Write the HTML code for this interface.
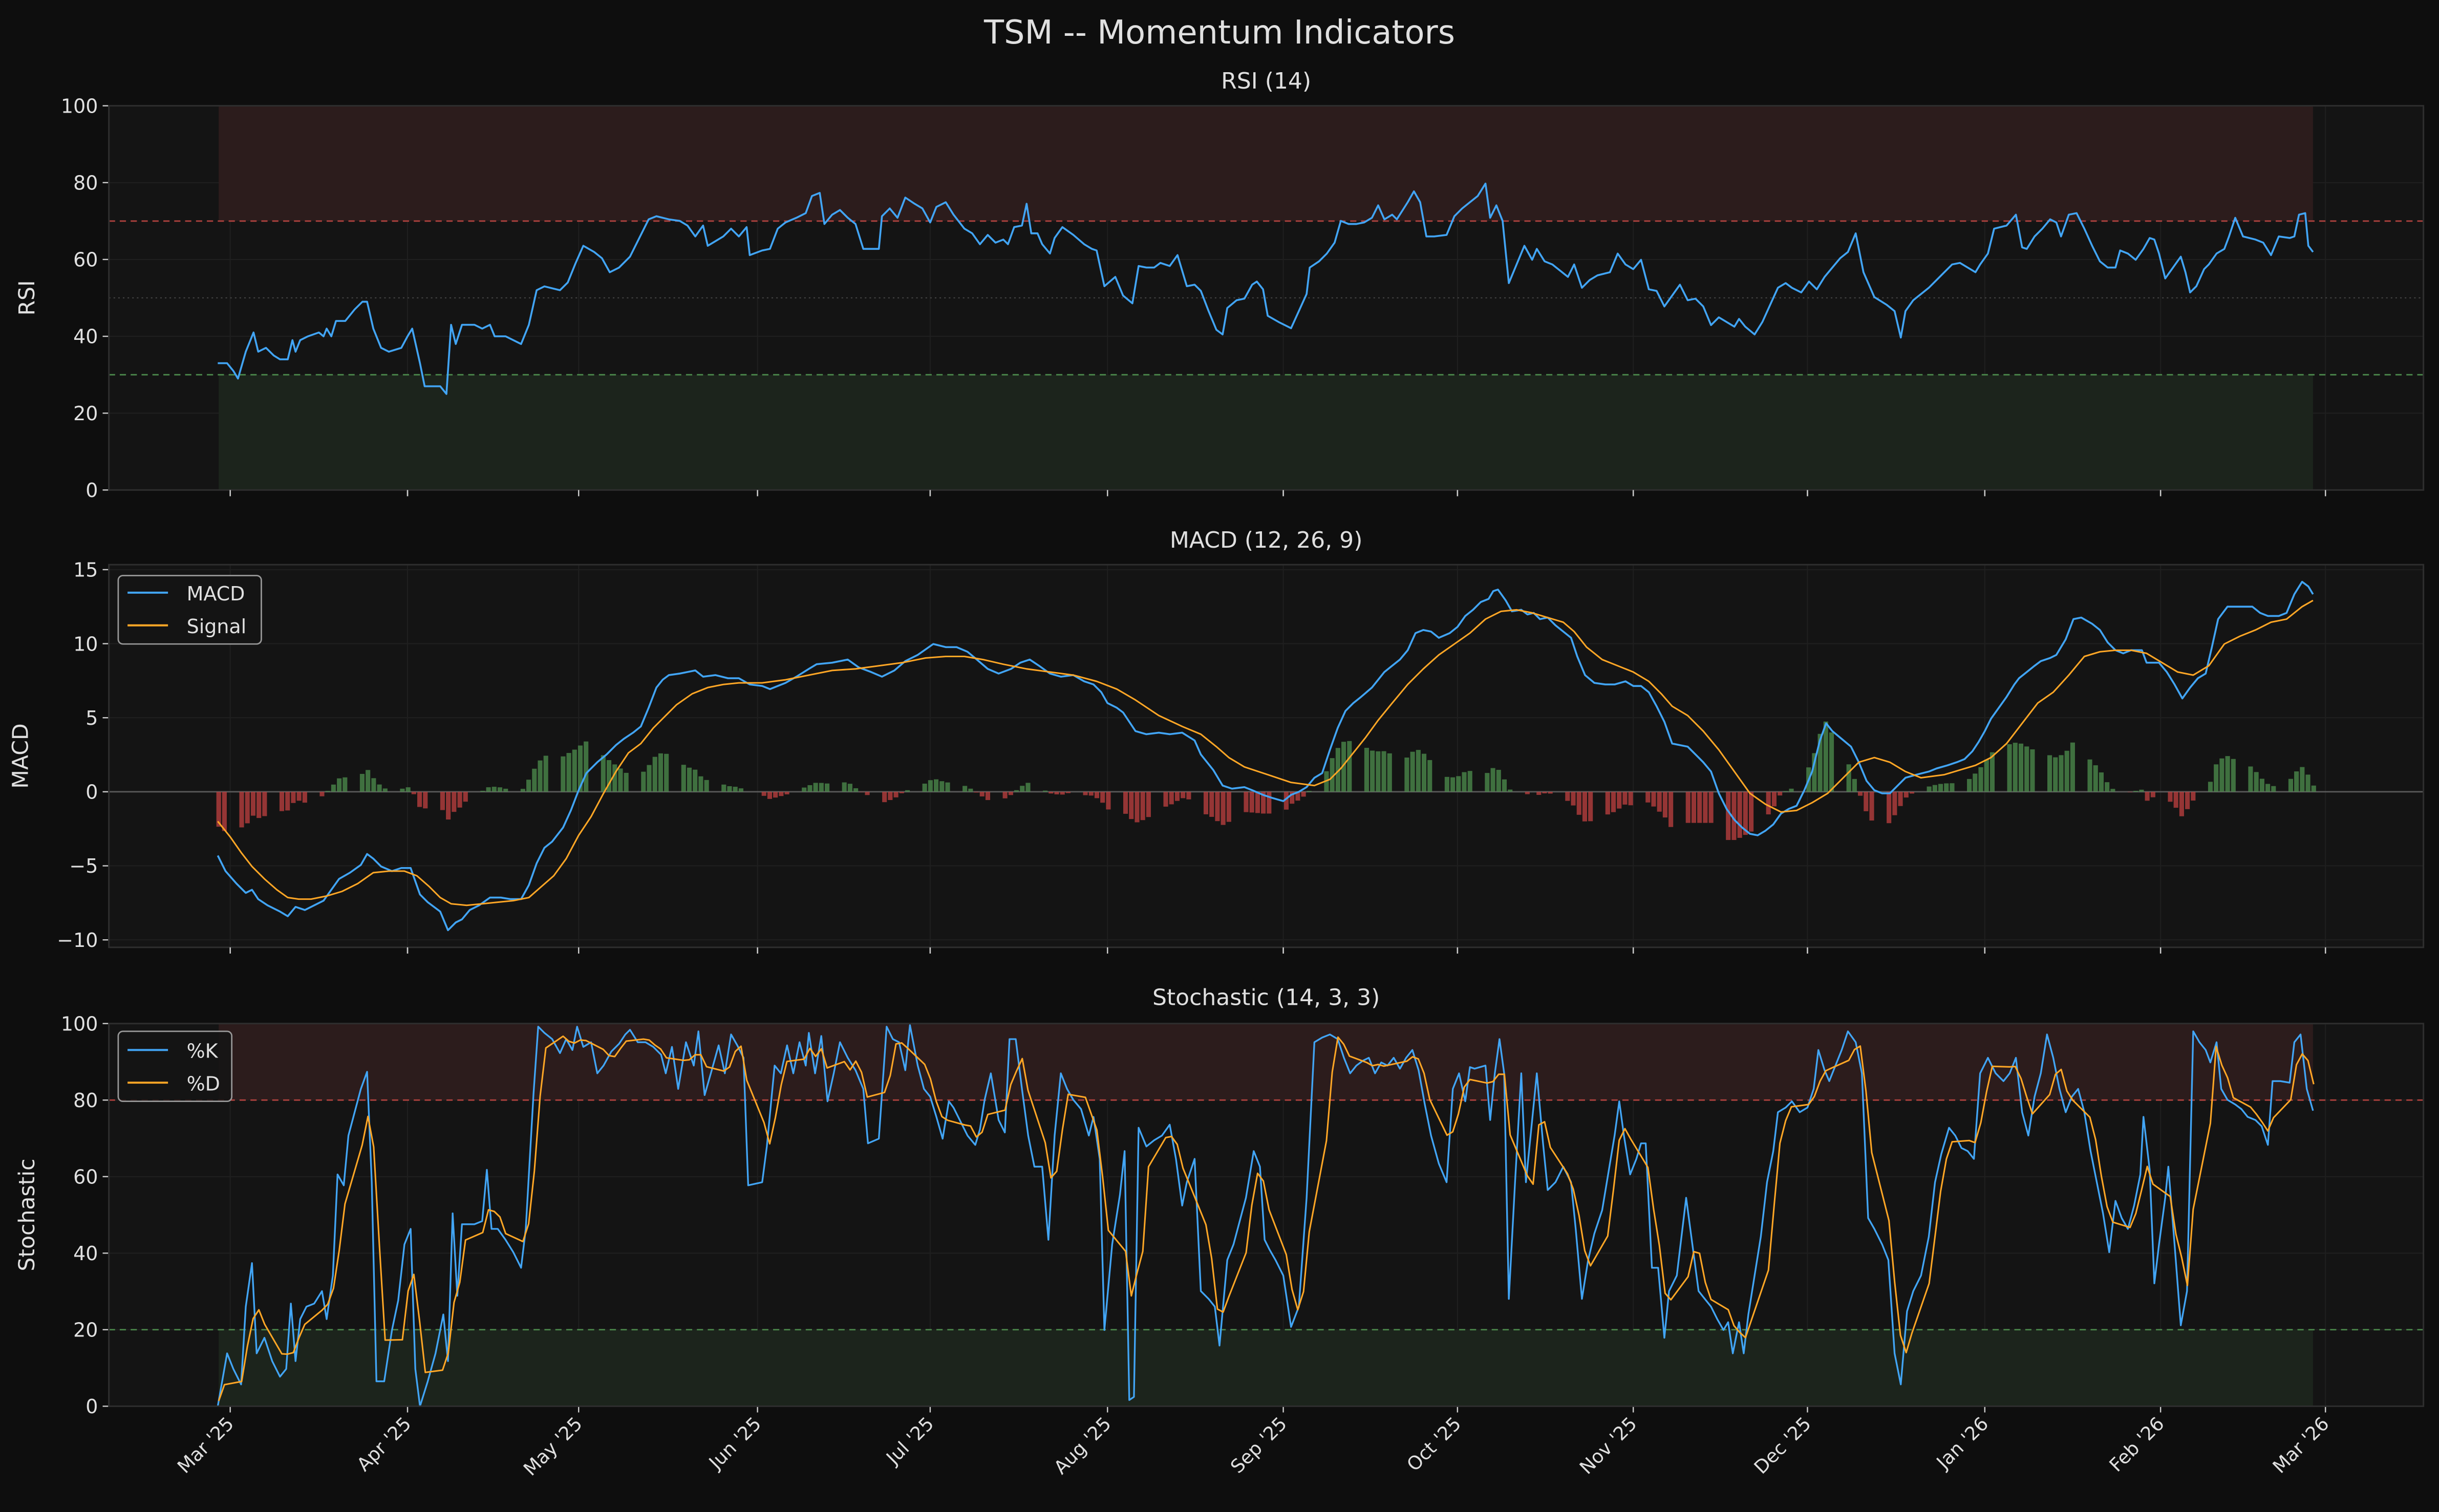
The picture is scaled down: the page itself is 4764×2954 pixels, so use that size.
<!DOCTYPE html>
<html><head><meta charset="utf-8"><style>
html,body{margin:0;padding:0;background:#0e0e0e;}
svg{display:block;}
text{font-family:"DejaVu Sans","Liberation Sans",sans-serif;fill:#e0e0e0;}
</style></head><body>
<svg id="s" width="4764" height="2954" viewBox="0 0 1568 972" preserveAspectRatio="none" xmlns="http://www.w3.org/2000/svg">
<rect width="1568" height="972" fill="#0e0e0e"/>
<text x="784" y="28" font-size="21" text-anchor="middle">TSM -- Momentum Indicators</text>
<text x="814" y="57" font-size="14.5" text-anchor="middle">RSI (14)</text>
<text x="814" y="352" font-size="14.5" text-anchor="middle">MACD (12, 26, 9)</text>
<text x="814" y="646" font-size="14.5" text-anchor="middle">Stochastic (14, 3, 3)</text>
<g id="g"></g>
</svg>
<script>
const NS="http://www.w3.org/2000/svg";const G=document.getElementById('g');
function el(t,a,txt){const e=document.createElementNS(NS,t);for(const k in a)e.setAttribute(k,a[k]);if(txt!==undefined)e.textContent=txt;G.appendChild(e);return e;}
const L=70,R=1558,X0=140.6,X1=1487;
const ticksX=[148,262,372,487,598,712,825,937,1050,1162,1276,1389,1495];
const tickL=["Mar '25","Apr '25","May '25","Jun '25","Jul '25","Aug '25","Sep '25","Oct '25","Nov '25","Dec '25","Jan '26","Feb '26","Mar '26"];
function panel(T,B,yt,fy,ylabel,ylx){
 el('rect',{x:L,y:T,width:R-L,height:B-T,fill:'#141414'});
 ticksX.forEach(x=>el('line',{x1:x,x2:x,y1:T,y2:B,stroke:'#1f1f1f','stroke-width':0.7}));
 yt.forEach(v=>{const y=fy(v);el('line',{x1:L,x2:R,y1:y,y2:y,stroke:'#1f1f1f','stroke-width':0.7});
  el('line',{x1:L-4,x2:L,y1:y,y2:y,stroke:'#ccc','stroke-width':0.8});
  el('text',{x:L-7,y:y+4.5,'font-size':12.5,'text-anchor':'end'},(v<0?'\u2212'+(-v):''+v));});
 ticksX.forEach(x=>el('line',{x1:x,x2:x,y1:B,y2:B+4,stroke:'#ccc','stroke-width':0.8}));
 const my=(T+B)/2;el('text',{x:ylx,y:my,'font-size':14,'text-anchor':'middle',transform:`rotate(-90 ${ylx} ${my})`},ylabel);
}
function border(T,B){el('rect',{x:L,y:T,width:R-L,height:B-T,fill:'none',stroke:'#2e2e2e','stroke-width':1});}
function parse(s){return s.trim().split(';').map(p=>p.split(',').map(Number));}
function interp(P,x){if(x<=P[0][0])return P[0][1];for(let i=1;i<P.length;i++){if(x<=P[i][0]){const a=P[i-1],b=P[i];return a[1]+(b[1]-a[1])*(x-a[0])/(b[0]-a[0]);}}return P[P.length-1][1];}
function poly(P,c,w){el('polyline',{points:P.map(p=>p.join(',')).join(' '),fill:'none',stroke:c,'stroke-width':w,'stroke-linejoin':'round'});}
const days=[];{const d0=new Date(Date.UTC(2025,1,27));for(let i=0;i<=365;i++){const d=new Date(d0.getTime()+i*864e5);const wd=d.getUTCDay();const x=X0+i*3.69;if(x>X1+0.5)break;if(wd!==0&&wd!==6)days.push(x);}}
// RSI
const rT=68,rB=315,fr=v=>rB-(rB-rT)*v/100;
panel(rT,rB,[0,20,40,60,80,100],fr,'RSI',22);
el('rect',{x:X0,y:rT,width:X1-X0,height:fr(70)-rT,fill:'#2c1c1c'});
el('rect',{x:X0,y:fr(30),width:X1-X0,height:rB-fr(30),fill:'#1c241c'});
el('line',{x1:L,x2:R,y1:fr(70),y2:fr(70),stroke:'#b0423e','stroke-width':0.9,'stroke-dasharray':'4,3'});
el('line',{x1:L,x2:R,y1:fr(30),y2:fr(30),stroke:'#4c8a4c','stroke-width':0.9,'stroke-dasharray':'4,3'});
el('line',{x1:L,x2:R,y1:fr(50),y2:fr(50),stroke:'#444','stroke-width':0.7,'stroke-dasharray':'1,2'});
const rsiEarly=parse("140,33;146,33;150,31;153,29;158,36;163,41;166,36;171,37;176,35;180,34;185,34;188,39;190,36;193,39;198,40;205,41;208,40;210,42;213,40;216,44;222,44;228,47;233,49;236,49;240,42;245,37;250,36;258,37;262,40;265,42;270,33;273,27;283,27;287,25;290,43;293,38;297,43;305,43;310,42;315,43;318,40;325,40;335,38;340,43;345,52;350,53;360,52;365,54;370,59").map(p=>[p[0],fr(p[1])]);
const rsiLate=parse("375,158;382,162;387,166;392,175;398,172;405,165;410,155;417,141;422,139;430,141;437,142;442,145;447,152;452,145;455,158;460,155;465,152;470,147;475,152;480,146;482,164;490,161;495,160;500,147;505,143;512,140;518,137;522,126;527,124;530,144;535,138;540,135;545,140;550,144;555,160;565,160;567,139;572,134;577,140;582,127;588,131;593,134;598,143;602,133;608,130;613,138;620,147;625,150;630,157;635,151;640,156;645,154;648,157;652,146;657,145;660,131;663,150;667,150;670,157;675,163;678,153;683,146;690,151;697,157;702,160;705,161;710,184;717,178;722,190;728,195;732,171;737,172;742,172;746,169;752,171;757,164;763,184;768,183;772,187;777,200;782,212;786,215;789,198;795,193;800,192;805,183;808,181;812,186;815,203;822,207;830,211;835,200;840,189;842,172;848,168;853,163;858,156;862,142;867,144;872,144;877,143;882,140;886,132;890,141;895,138;898,141;905,130;909,123;913,130;917,152;922,152;930,151;935,139;940,134;945,130;950,126;955,118;958,140;962,132;966,142;970,182;975,170;980,158;985,167;988,160;993,168;998,170;1003,174;1008,178;1012,170;1017,185;1022,180;1027,177;1035,175;1040,163;1045,170;1050,173;1055,167;1060,186;1065,187;1070,197;1075,190;1080,183;1085,193;1090,192;1095,197;1100,209;1105,204;1110,207;1115,210;1118,205;1122,210;1128,215;1133,207;1138,196;1143,185;1148,182;1152,185;1158,188;1163,181;1168,186;1173,178;1178,172;1183,166;1188,162;1193,150;1198,175;1205,191;1213,196;1218,200;1222,217;1225,200;1230,193;1235,189;1240,185;1245,180;1250,175;1255,170;1260,169;1265,172;1270,175;1273,170;1278,163;1282,147;1290,145;1296,138;1300,159;1303,160;1308,152;1313,147;1318,141;1322,143;1325,152;1330,138;1335,137;1340,147;1345,158;1350,168;1355,172;1360,172;1363,161;1368,163;1373,167;1378,160;1382,153;1385,154;1388,163;1392,179;1397,172;1402,165;1405,175;1408,188;1412,184;1417,173;1420,170;1425,163;1430,160;1433,152;1437,140;1442,152;1450,154;1455,156;1460,164;1465,152;1472,153;1475,152;1478,138;1482,137;1484,158;1487,162");
poly(rsiEarly.concat(rsiLate),'#42a5f5',1.2);border(rT,rB);
// MACD
const mT=363,mB=609,Z=509,fm=v=>Z-v*9.52;
panel(mT,mB,[-10,-5,0,5,10,15],fm,'MACD',18);
el('line',{x1:L,x2:R,y1:Z,y2:Z,stroke:'#5a5a5a','stroke-width':0.9});
const macd=parse("140,550;145,560;152,568;158,574;162,572;166,578;172,582;180,586;185,589;190,583;196,585;202,582;208,579;213,572;218,565;225,561;232,556;236,549;240,552;245,557;252,560;258,558;264,558;270,575;275,580;283,586;288,598;293,593;297,591;302,585;308,582;315,577;322,577;328,578;335,578;340,569;345,555;350,545;355,541;362,532;367,521;372,508;377,497;384,490;390,485;396,479;401,475;407,471;412,467;417,455;422,442;426,437;430,434;437,433;442,432;447,431;452,435;460,434;468,436;475,436;482,440;490,441;495,443;505,439;512,435;520,430;525,427;535,426;545,424;552,429;560,432;567,435;575,431;582,425;590,421;600,414;608,416;615,416;622,419;628,424;635,430;642,433;650,430;656,426;662,424;668,428;675,433;682,435;690,434;697,438;703,440;708,445;712,452;718,455;722,458;730,470;737,472;745,471;752,472;760,471;768,476;772,485;780,495;786,505;792,507;800,506;805,508;812,511;818,513;825,515;830,511;835,509;840,506;845,500;850,497;855,482;860,468;865,457;870,452;875,448;882,442;890,432;895,428;900,424;905,418;910,407;915,405;920,406;925,410;932,407;937,403;942,396;947,392;952,387;957,385;960,380;963,379;968,386;972,393;978,392;982,395;986,394;990,398;995,397;1000,402;1005,406;1010,410;1014,422;1019,434;1025,439;1032,440;1038,440;1045,438;1050,441;1055,441;1060,445;1065,454;1070,464;1075,478;1080,479;1085,480;1090,485;1095,490;1100,496;1105,510;1110,520;1115,527;1120,532;1125,536;1130,537;1135,534;1140,530;1145,523;1150,520;1155,518;1160,508;1165,496;1170,476;1174,465;1178,470;1184,475;1190,480;1195,490;1200,502;1205,508;1210,510;1215,510;1220,505;1225,500;1232,498;1240,496;1245,494;1252,492;1258,490;1263,488;1268,483;1272,477;1276,470;1280,462;1285,455;1290,448;1295,440;1298,436;1303,432;1308,428;1312,425;1318,423;1322,421;1328,411;1333,398;1338,397;1345,401;1350,405;1355,413;1360,418;1365,420;1370,418;1377,418;1380,426;1388,426;1393,432;1398,440;1403,449;1408,442;1413,436;1418,433;1422,416;1426,398;1432,390;1440,390;1448,390;1453,394;1458,396;1465,396;1470,394;1475,382;1480,374;1484,377;1487,382");
const sig=parse("140,528;148,538;155,548;162,557;170,565;178,572;185,577;192,578;200,578;210,576;220,573;230,568;240,561;250,560;260,560;268,563;276,570;283,577;290,581;300,582;310,581;320,580;330,579;340,577;348,570;356,563;364,552;372,537;380,525;388,510;396,496;404,484;412,478;420,468;428,460;435,453;445,446;455,442;465,440;475,439;490,439;505,437;520,434;535,431;550,430;565,428;580,426;595,423;608,422;620,422;632,424;645,427;660,430;675,432;690,434;705,438;718,443;730,450;745,460;760,467;772,472;782,480;790,487;800,493;815,498;830,503;845,505;855,501;862,494;870,484;878,474;886,463;895,452;905,440;915,430;925,421;935,414;945,407;955,398;965,393;975,392;985,394;995,397;1005,400;1012,406;1020,416;1030,424;1040,428;1050,432;1060,438;1068,446;1075,454;1085,460;1095,470;1105,482;1115,496;1125,510;1135,517;1145,522;1155,521;1165,516;1175,510;1185,500;1195,490;1205,487;1215,490;1225,496;1235,500;1250,498;1260,495;1270,492;1280,487;1290,478;1300,465;1310,452;1320,445;1330,434;1340,422;1350,419;1360,418;1370,418;1380,420;1390,426;1400,432;1410,434;1420,428;1430,414;1440,409;1450,405;1460,400;1470,398;1480,390;1487,386");
days.forEach(x=>{const h=interp(sig,x)-interp(macd,x);if(Math.abs(h)<0.2)return;
 el('rect',{x:x-1.5,y:h>0?Z-h:Z,width:3,height:Math.abs(h),fill:h>0?'#4e8f4e':'#c04040','fill-opacity':0.75});});
poly(macd,'#42a5f5',1.2);poly(sig,'#ffa726',1.0);border(mT,mB);
el('rect',{x:76,y:370,width:92,height:44,rx:3,fill:'#141414','fill-opacity':0.85,stroke:'#999','stroke-width':0.9});
el('line',{x1:82,x2:108,y1:381,y2:381,stroke:'#42a5f5','stroke-width':1.3});
el('line',{x1:82,x2:108,y1:402,y2:402,stroke:'#ffa726','stroke-width':1.3});
el('text',{x:120,y:386,'font-size':12.5},'MACD');el('text',{x:120,y:407,'font-size':12.5},'Signal');
// Stochastic
const sT=658,sB=904,fs=v=>sB-(sB-sT)*v/100;
panel(sT,sB,[0,20,40,60,80,100],fs,'Stochastic',22);
el('rect',{x:X0,y:sT,width:X1-X0,height:fs(80)-sT,fill:'#2c1c1c'});
el('rect',{x:X0,y:fs(20),width:X1-X0,height:sB-fs(20),fill:'#1c241c'});
el('line',{x1:L,x2:R,y1:fs(80),y2:fs(80),stroke:'#b0423e','stroke-width':0.9,'stroke-dasharray':'4,3'});
el('line',{x1:L,x2:R,y1:fs(20),y2:fs(20),stroke:'#4c8a4c','stroke-width':0.9,'stroke-dasharray':'4,3'});
const K=parse("140,904;146,870;150,880;155,890;158,840;162,812;165,870;170,860;175,875;180,885;184,880;187,838;190,875;193,848;197,840;202,838;207,830;210,848;214,820;217,755;221,762;224,730;228,715;232,700;236,689;239,760;242,888;247,888;252,855;256,836;260,800;264,790;267,880;270,904;275,888;280,870;285,845;288,875;291,780;294,833;297,787;305,787;310,785;313,752;316,790;320,790;325,797;330,805;335,815;338,790;343,703;346,660;350,664;355,668;360,677;364,668;368,675;371,660;375,673;380,670;384,690;388,685;393,676;398,671;402,665;405,662;410,670;415,670;420,673;425,678;428,690;432,673;436,700;441,670;446,685;449,663;453,704;457,690;462,672;466,690;470,665;474,672;478,680;481,762;490,760;493,737;498,685;502,690;506,672;510,690;514,670;518,685;520,664;524,690;528,666;532,708;536,690;540,670;545,680;550,688;555,700;558,735;565,732;570,660;574,668;578,670;582,688;585,659;590,685;594,700;598,705;602,718;606,732;610,708;613,712;617,720;622,730;627,736;630,726;633,707;637,690;642,720;646,728;649,668;653,668;657,700;661,730;665,750;670,750;674,797;678,730;682,690;686,700;690,707;695,713;700,730;703,718;707,745;710,855;715,800;720,768;723,740;726,900;729,898;732,725;737,737;742,733;747,730;752,723;756,745;760,775;763,760;768,745;772,830;777,835;781,840;784,865;789,810;793,800;797,785;801,770;806,740;810,750;813,797;816,803;820,810;825,820;830,853;835,840;840,770;845,670;850,667;855,665;860,668;864,680;868,690;872,685;876,682;880,680;884,690;888,683;892,685;896,680;900,687;904,680;908,675;912,688;916,710;920,730;925,748;930,760;934,700;938,690;942,708;945,686;948,687;955,685;958,720;961,690;964,668;967,690;970,835;974,760;978,690;981,760;985,720;988,690;992,735;995,765;1000,760;1005,750;1010,760;1013,790;1017,835;1021,810;1025,793;1030,778;1033,760;1038,730;1041,708;1044,730;1048,755;1052,745;1055,735;1058,735;1062,815;1066,815;1070,860;1073,830;1078,820;1084,770;1088,800;1092,830;1096,835;1100,840;1104,848;1108,855;1111,850;1114,870;1118,850;1121,870;1124,845;1128,820;1132,795;1136,760;1140,740;1143,715;1148,712;1152,708;1157,715;1162,712;1166,700;1169,675;1173,688;1176,695;1180,685;1184,675;1188,663;1193,670;1197,690;1201,783;1205,790;1210,800;1214,810;1218,870;1222,890;1226,843;1230,830;1235,820;1240,795;1244,760;1248,742;1253,725;1257,730;1261,738;1265,740;1269,745;1273,690;1278,680;1283,690;1288,695;1292,690;1296,680;1300,715;1304,730;1308,705;1312,690;1316,665;1320,680;1324,700;1328,715;1332,705;1336,700;1340,715;1344,740;1348,760;1352,780;1356,805;1360,772;1364,783;1368,790;1372,775;1376,755;1378,718;1382,752;1385,825;1388,800;1392,770;1394,750;1398,800;1402,852;1406,830;1410,663;1414,670;1418,675;1421,683;1425,670;1428,700;1432,707;1437,710;1441,713;1445,718;1450,720;1454,724;1458,736;1461,695;1466,695;1472,696;1475,670;1479,665;1483,700;1487,714");
const kv=days.map(x=>interp(K,x));const D=[];
days.forEach((x,i)=>{const a=kv.slice(Math.max(0,i-2),i+1);D.push([x,a.reduce((s,v)=>s+v,0)/a.length]);});
poly(K,'#42a5f5',1.1);poly(D,'#ffa726',1.0);border(sT,sB);
el('rect',{x:76,y:663,width:73,height:45,rx:3,fill:'#141414','fill-opacity':0.85,stroke:'#999','stroke-width':0.9});
el('line',{x1:82,x2:108,y1:675,y2:675,stroke:'#42a5f5','stroke-width':1.3});
el('line',{x1:82,x2:108,y1:696,y2:696,stroke:'#ffa726','stroke-width':1.3});
el('text',{x:120,y:680,'font-size':12.5},'%K');el('text',{x:120,y:701,'font-size':12.5},'%D');
ticksX.forEach((x,i)=>{el('text',{x:x+3,y:916,'font-size':12,'text-anchor':'end',transform:`rotate(-45 ${x+3} 916)`},tickL[i]);
 [rB,mB].forEach(b=>el('line',{x1:x,x2:x,y1:b,y2:b+4,stroke:'#ccc','stroke-width':0.8}));});
</script>
</body></html>
